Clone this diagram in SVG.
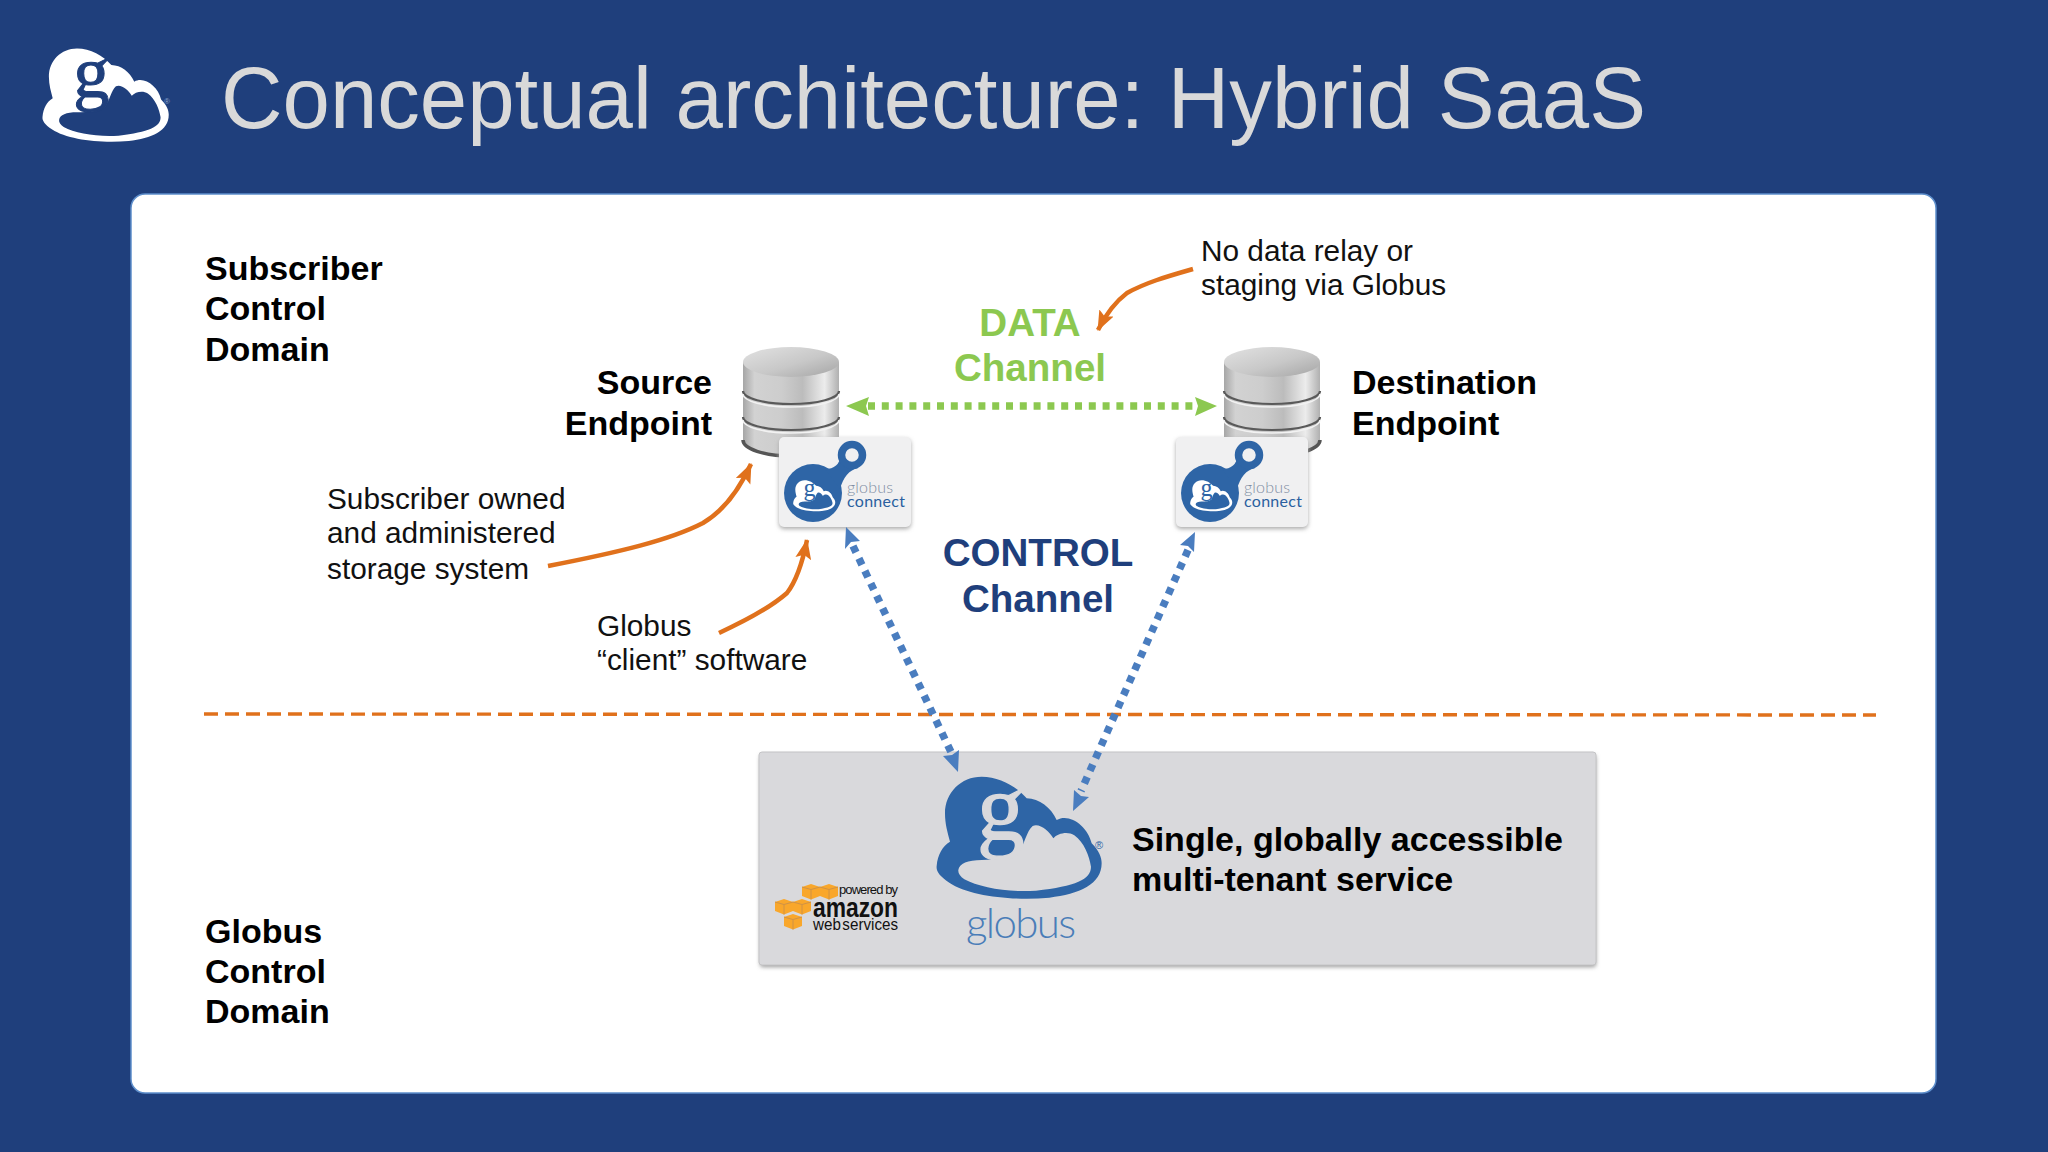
<svg xmlns="http://www.w3.org/2000/svg" width="2048" height="1152" viewBox="0 0 2048 1152">
<style>
text{font-family:"Liberation Sans",Arial,sans-serif}
.b{font-weight:700;font-size:34px;fill:#000}
.n{font-size:29.8px;fill:#111}
.ch{font-weight:700;font-size:38.6px;text-anchor:middle}
.g{font-family:"Liberation Serif","Times New Roman",serif;text-anchor:middle;stroke-width:4}
.or{fill:none;stroke:#e0711c;stroke-width:4.5;stroke-linecap:butt}
.gr{fill:none;stroke:#8cc850;stroke-width:7.5;stroke-dasharray:7 6.8}
.bl{fill:none;stroke:#4a7dbf;stroke-width:7.5;stroke-dasharray:7 6.8}
.dash{fill:none;stroke:#e0711c;stroke-width:3.4;stroke-dasharray:14 7}
.ctxt{font-family:Lato,"Open Sans",sans-serif;font-size:16px}
.thin{font-family:Lato,"Open Sans",sans-serif;font-weight:300}
</style>
<defs>
<linearGradient id="cyl" x1="0" x2="1" y1="0" y2="0">
<stop offset="0" stop-color="#a6a6a6"/><stop offset=".12" stop-color="#d2d2d2"/><stop offset=".4" stop-color="#cdcdcd"/><stop offset=".62" stop-color="#bcbcbc"/><stop offset=".85" stop-color="#ececec"/><stop offset="1" stop-color="#b0b0b0"/>
</linearGradient>
<linearGradient id="cyltop" x1="0" x2="1" y1="0" y2="1">
<stop offset="0" stop-color="#e2e2e2"/><stop offset=".55" stop-color="#c8c8c8"/><stop offset="1" stop-color="#a4a4a4"/>
</linearGradient>
<filter id="sh" x="-5%" y="-5%" width="110%" height="115%"><feGaussianBlur stdDeviation="2"/></filter>
<marker id="ao" viewBox="0 0 20 20" refX="19" refY="10" markerUnits="userSpaceOnUse" markerWidth="20" markerHeight="20" orient="auto"><path d="M0 2L20 10L0 18L4 10Z" fill="#e0711c"/></marker>
<path id="cloud" fill-rule="evenodd" d="M42 197C35 170 27 145 27 112C27 50 75 2 137 2C190 2 240 30 272 67C310 68 345 95 362 132C400 110 455 150 467 202C490 225 497 245 497 262C497 325 430 355 340 365C230 375 100 360 40 320C10 300 0 285 2 270C5 235 20 210 42 197ZM67 282C70 262 95 252 137 252C180 250 230 250 250 228C265 205 272 165 290 150C310 140 340 165 352 187C365 172 395 165 415 178C445 200 460 240 465 272C465 310 420 330 300 344C220 350 130 335 85 310C72 300 66 292 67 282Z"/>
<g id="cylinder">
<path d="M0 15V93A48 16 0 0 0 96 93V15Z" fill="url(#cyl)"/>
<path d="M0 93A48 16 0 0 0 96 93" fill="none" stroke="#555" stroke-width="3.5"/>
<ellipse cx="48" cy="15" rx="48" ry="15" fill="url(#cyltop)"/>
<path d="M0 44A48 13 0 0 0 96 44" fill="none" stroke="#5a5a5a" stroke-width="2.2"/>
<path d="M0 47A48 13 0 0 0 96 47" fill="none" stroke="#f2f2f2" stroke-width="1.5"/>
<path d="M0 70A48 13 0 0 0 96 70" fill="none" stroke="#5a5a5a" stroke-width="2.2"/>
<path d="M0 73A48 13 0 0 0 96 73" fill="none" stroke="#f2f2f2" stroke-width="1.5"/>
</g>
<g id="card">
<rect x="0" y="2" width="132" height="90" rx="5" fill="#aaa" filter="url(#sh)"/>
<rect x="0" y="0" width="132" height="90" rx="5" fill="#f0f0f1"/>
<circle cx="34" cy="56" r="29" fill="#2e65a6"/>
<path d="M46 32Q60 32 62 18L79 31Q66 34 61 52Z" fill="#2e65a6"/>
<circle cx="73" cy="18" r="10.5" fill="#f0f0f1" stroke="#2e65a6" stroke-width="7.5"/>
</g>
<g id="cube"><path d="M0 3L9 0L18 3V12L9 15.5L0 12Z" fill="#f9a72b"/><path d="M9 5.5V15.5M0 3L9 5.5L18 3" fill="none" stroke="#cf9247" stroke-width="1"/></g>
</defs>
<rect id="background" width="2048" height="1152" fill="#1f3f7c"/>
<g id="header">
<g transform="translate(42 48) scale(.255)"><use href="#cloud" fill="#fff"/><text class="g" x="194" y="192" font-size="285" fill="#1f3f7c" stroke="#1f3f7c">g</text></g>
<text x="167" y="104" font-size="8" fill="#8fa8cf" text-anchor="middle">®</text>
<text id="title" x="221" y="128" font-size="88" fill="#d9d9d9" textLength="1425" lengthAdjust="spacingAndGlyphs">Conceptual architecture: Hybrid SaaS</text>
</g>
<rect x="131" y="194" width="1805" height="899" rx="14" fill="#fff" stroke="#5d8ecb" stroke-width="1.5"/>
<g id="subscriber-domain"><text class="b" x="205" y="280">Subscriber</text><text class="b" x="205" y="320">Control</text><text class="b" x="205" y="361">Domain</text></g>
<g id="globus-domain"><text class="b" x="205" y="943">Globus</text><text class="b" x="205" y="983">Control</text><text class="b" x="205" y="1023">Domain</text></g>
<g id="source-endpoint">
<use href="#cylinder" x="743" y="347"/>
<text class="b" x="712" y="394" text-anchor="end">Source</text><text class="b" x="712" y="435" text-anchor="end">Endpoint</text>
<use href="#card" x="779" y="437"/>
<g transform="translate(793 480) scale(.085)"><use href="#cloud" fill="#fff"/><text class="g" x="194" y="192" font-size="285" fill="#2e65a6">g</text></g>
<text class="ctxt" x="847" y="493" fill="#7f8ea3" font-weight="300" textLength="46">globus</text>
<text class="ctxt" x="847" y="507" fill="#2a5f9f" font-weight="400" textLength="58">connect</text>
</g>
<g id="destination-endpoint">
<use href="#cylinder" x="1224" y="347"/>
<text class="b" x="1352" y="394">Destination</text><text class="b" x="1352" y="435">Endpoint</text>
<use href="#card" x="1176" y="437"/>
<g transform="translate(1190 480) scale(.085)"><use href="#cloud" fill="#fff"/><text class="g" x="194" y="192" font-size="285" fill="#2e65a6">g</text></g>
<text class="ctxt" x="1244" y="493" fill="#7f8ea3" font-weight="300" textLength="46">globus</text>
<text class="ctxt" x="1244" y="507" fill="#2a5f9f" font-weight="400" textLength="58">connect</text>
</g>
<g id="globus-service">
<rect x="760" y="755" width="836" height="212" rx="3" fill="#999" filter="url(#sh)"/>
<rect x="759" y="752" width="837" height="213" rx="3" fill="#d9d9dc" stroke="#c4c4c6"/>
<g transform="translate(936 776) scale(.3333)"><use href="#cloud" fill="#2e65a6"/><text class="g" x="194" y="192" font-size="285" fill="#d9d9dc" stroke="#d9d9dc">g</text></g>
<text x="1099" y="849" font-size="11" fill="#2e65a6" text-anchor="middle">®</text>
<text class="thin" x="966" y="938" font-size="42" fill="#4a7db8" textLength="110">globus</text>
<text class="b" x="1132" y="851">Single, globally accessible</text>
<text class="b" x="1132" y="891">multi-tenant service</text>
</g>
<g id="aws">
<use href="#cube" x="802" y="884"/><use href="#cube" x="820" y="884"/>
<use href="#cube" x="775" y="899"/><use href="#cube" x="793" y="899"/><use href="#cube" x="784" y="914"/>
<text x="839" y="894" font-size="13" fill="#111" textLength="59">powered by</text>
<text x="813" y="917" font-size="27" font-weight="700" fill="#111" textLength="85" lengthAdjust="spacingAndGlyphs">amazon</text>
<text x="813" y="930" font-size="17" fill="#111" word-spacing="-3" textLength="85" lengthAdjust="spacingAndGlyphs">web services</text>
</g>
<g id="labels">
<text class="ch" x="1030" y="336" fill="#8cc850">DATA</text><text class="ch" x="1030" y="381" fill="#8cc850">Channel</text>
<text class="ch" x="1038" y="566" fill="#1f3f7c">CONTROL</text><text class="ch" x="1038" y="612" fill="#1f3f7c">Channel</text>
<text class="n" x="1201" y="261">No data relay or</text><text class="n" x="1201" y="295">staging via Globus</text>
<text class="n" x="327" y="509">Subscriber owned</text><text class="n" x="327" y="543">and administered</text><text class="n" x="327" y="579">storage system</text>
<text class="n" x="597" y="636">Globus</text><text class="n" x="597" y="670">“client” software</text>
</g>
<g id="connectors">
<path class="dash" d="M204 714L1876 715"/>
<path class="gr" d="M868 406H1196"/>
<path d="M846 406L869 397L866 406L869 416Z" fill="#8cc850"/><path d="M1217 406L1195 397L1198 406L1195 416Z" fill="#8cc850"/>
<path class="bl" d="M853 546L951 752"/>
<path d="M846 527L860 541L851 542L845 549Z" fill="#4a7dbf"/><path d="M958 772L943 756L952 755L959 750Z" fill="#4a7dbf"/>
<path class="bl" d="M1188 550L1081 791"/>
<path d="M1195 532L1194 552L1188 546L1180 545Z" fill="#4a7dbf"/><path d="M1073 811L1074 790L1081 796L1089 797Z" fill="#4a7dbf"/>
<path class="or" marker-end="url(#ao)" d="M548 566C620 552 670 540 703 523C725 510 740 488 751 464"/>
<path class="or" marker-end="url(#ao)" d="M719 633C745 621 770 608 787 593C797 580 803 560 807 540"/>
<path class="or" marker-end="url(#ao)" d="M1193 269C1165 277 1145 283 1127 293C1115 302 1105 316 1098 330"/>
</g>
</svg>
